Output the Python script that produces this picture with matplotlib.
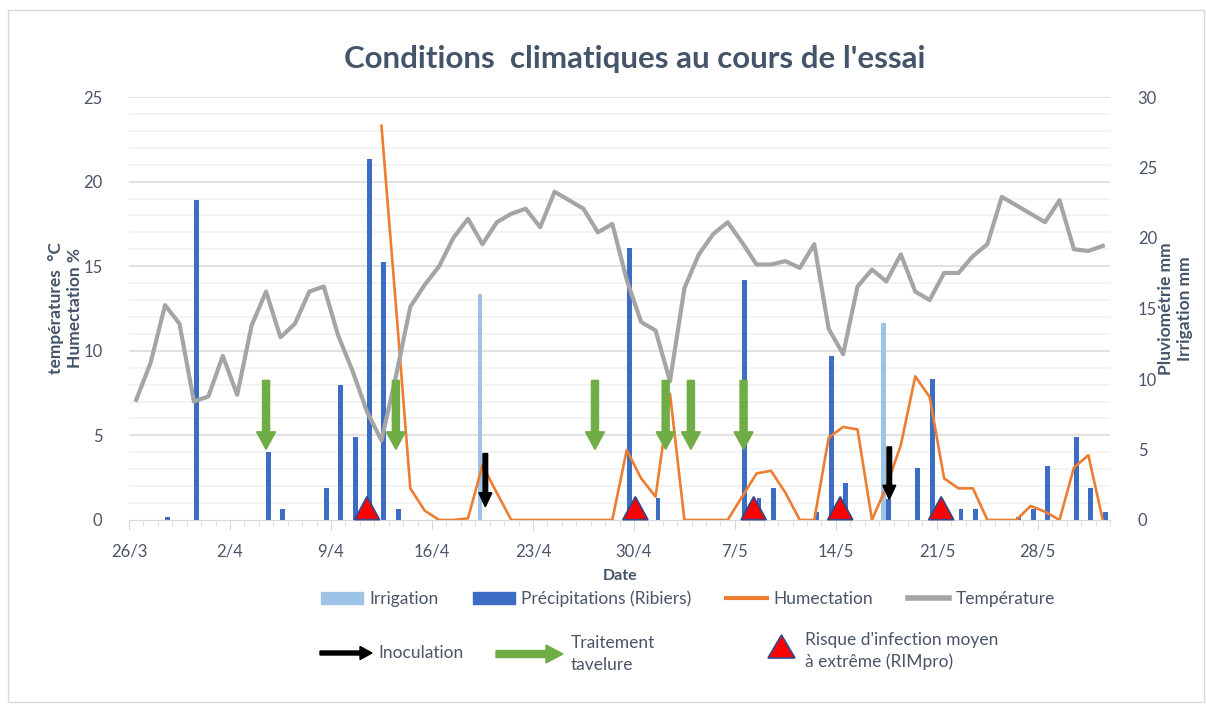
import numpy as np
import matplotlib.pyplot as plt
from matplotlib.patches import Patch, Polygon, Rectangle
from matplotlib.lines import Line2D

plt.rcParams['font.family'] = ['Lato', 'DejaVu Sans']

# one value per day, from 26/3 to 1/6
tick_labels = ['26/3', '2/4', '9/4', '16/4', '23/4', '30/4', '7/5', '14/5', '21/5', '28/5']

temperature = [7.1, 9.3, 12.7, 11.6, 7.0, 7.3, 9.7, 7.4, 11.5, 13.5,
               10.8, 11.6, 13.5, 13.8, 10.9, 8.8, 6.4, 4.7, 8.5, 12.6,
               13.9, 15.0, 16.7, 17.8, 16.3, 17.6, 18.1, 18.4, 17.3, 19.4,
               18.9, 18.4, 17.0, 17.5, 14.2, 11.7, 11.2, 8.2, 13.7, 15.7,
               16.9, 17.6, 16.4, 15.1, 15.1, 15.3, 14.9, 16.3, 11.3, 9.8,
               13.8, 14.8, 14.1, 15.7, 13.5, 13.0, 14.6, 14.6, 15.6, 16.3,
               19.1, 18.6, 18.1, 17.6, 18.9, 16.0, 15.9, 16.2]

humectation = [np.nan] * 17 + [
    23.3, 12.7, 1.87, 0.55, 0.0, 0.0, 0.1, 3.24, 1.6, 0.0,
    0.0, 0.0, 0.0, 0.0, 0.0, 0.0, 0.0, 4.13, 2.46, 1.38,
    7.47, 0.0, 0.0, 0.0, 0.0, 1.38, 2.75, 2.91, 1.61, 0.0,
    0.0, 4.87, 5.5, 5.35, 0.0, 1.97, 4.42, 8.49, 7.27, 2.46,
    1.87, 1.87, 0.0, 0.0, 0.0, 0.83, 0.49, 0.0, 3.1, 3.83, 0.0]

precip_days = [2, 4, 9, 10, 13, 14, 15, 16, 17, 18, 34, 36, 42, 43, 44, 47, 48, 49,
               52, 54, 55, 57, 58, 61, 62, 63, 65, 66, 67]
precip_mm = [0.2, 22.7, 4.85, 0.76, 2.25, 9.57, 5.86, 25.6, 18.3, 0.76, 19.3, 1.58,
             17.0, 1.58, 2.25, 0.59, 11.6, 2.6, 1.5, 3.66, 10.0, 0.76, 0.76, 0.24,
             0.76, 3.83, 5.86, 2.25, 0.55]

irrigation_days = [24, 52]
irrigation_mm = [16.0, 14.0]

inoculation_days = [24.2, 52.2]
traitement_days = [9.0, 18.0, 31.8, 36.7, 38.45, 42.1]
risque_days = [16.0, 34.6, 42.8, 48.8, 55.8]

days = np.arange(len(temperature))
txt = '#4a5568'

fig = plt.figure(figsize=(12.06, 7.04), dpi=100)
axL = fig.add_axes([129 / 1206, 1 - 520 / 704, 981 / 1206, 423 / 704])
axR = axL.twinx()
axL.set_zorder(axR.get_zorder() + 1)
axL.patch.set_visible(False)

# gridlines (left scale, every 1) drawn under the bars
for k in range(1, 26):
    axR.axhline(k * 30 / 25, color='#d9d9d9' if k % 5 == 0 else '#f0f0f0',
                lw=1.1, zorder=0)

axR.bar(np.array(irrigation_days) - 0.17, irrigation_mm, width=0.34,
        color='#9dc3e6', zorder=2)
axR.bar(np.array(precip_days) + 0.17, precip_mm, width=0.34,
        color='#3d6cc5', zorder=2)
axR.set_ylim(0, 30)
axR.set_yticks(range(0, 31, 5))

axL.plot(days, humectation, color='#ed7d31', lw=1.9, zorder=3)
axL.plot(days, temperature, color='#a5a5a5', lw=3.0, zorder=3)
axL.set_ylim(0, 25)
axL.set_yticks(range(0, 26, 5))
axL.set_xlim(-0.5, len(days) - 0.5)

for x in traitement_days:
    axL.arrow(x, 8.25, 0, 4.17 - 8.25, width=0.49, head_width=1.32, head_length=1.04,
              length_includes_head=True, color='#70ad47', zorder=5)
for x, top, tip in zip(inoculation_days, [3.93, 4.32], [0.78, 1.22]):
    axL.arrow(x, top, 0, tip - top, width=0.32, head_width=0.9, head_length=0.83,
              length_includes_head=True, color='black', zorder=5)
for x in risque_days:
    axL.add_patch(Polygon([(x - 0.87, 0.02), (x + 0.87, 0.02), (x, 1.38)],
                          facecolor='#ff0000', edgecolor='#2f4a8a', lw=1.2,
                          zorder=6, clip_on=False))

axL.set_xticks([-0.5 + 7 * k for k in range(len(tick_labels))])
axL.set_xticklabels(tick_labels)
axL.set_xticks(np.arange(-0.5, len(days)), minor=True)
axL.tick_params(axis='x', which='major', length=7, color='#d9d9d9', pad=10,
                labelsize=12, labelcolor=txt)
axL.tick_params(axis='x', which='minor', length=4, color='#d9d9d9')
axL.tick_params(axis='y', length=0, pad=19, labelsize=12, labelcolor=txt)
axR.tick_params(axis='y', length=0, pad=20, labelsize=12, labelcolor=txt)

for a in (axL, axR):
    for s in a.spines.values():
        s.set_visible(False)
axL.spines['bottom'].set_visible(True)
axL.spines['bottom'].set_color('#d9d9d9')

axL.set_ylabel('températures  °C\nHumectation %', fontsize=12.5, fontweight='bold',
               color='#44546a', linespacing=1.2)
axL.yaxis.set_label_coords(-0.047, 0.5)
axR.set_ylabel('Pluviométrie mm\nIrrigation mm', fontsize=12.5, fontweight='bold',
               color='#44546a', linespacing=1.2)
axR.yaxis.set_label_coords(1.049, 0.5)

fig.text(620 / 1206, 1 - 576 / 704, 'Date', ha='center', va='center',
         fontsize=11.5, fontweight='bold', color='#44546a')
fig.text(635 / 1206, 1 - 59 / 704, "Conditions  climatiques au cours de l'essai",
         ha='center', va='center', fontsize=22.5, fontweight='bold', color='#44546a')

handles = [Patch(color='#9dc3e6'), Patch(color='#3d6cc5'),
           Line2D([], [], color='#ed7d31', lw=3), Line2D([], [], color='#a5a5a5', lw=4)]
fig.legend(handles, ['Irrigation', 'Précipitations (Ribiers)', 'Humectation', 'Température'],
           loc='center', bbox_to_anchor=(688 / 1206, 1 - 599 / 704), ncol=4,
           frameon=False, fontsize=12.5, handlelength=2.4, handletextpad=0.35,
           columnspacing=2.0, labelcolor=txt)

# second legend row, drawn in pixel coordinates
ov = fig.add_axes([0, 0, 1, 1], zorder=10)
ov.set_xlim(0, 1206)
ov.set_ylim(704, 0)
ov.axis('off')
ov.arrow(320, 653, 52, 0, width=4, head_width=13, head_length=12,
         length_includes_head=True, color='black')
ov.arrow(496, 654, 67, 0, width=7, head_width=18, head_length=17,
         length_includes_head=True, color='#70ad47')
ov.add_patch(Polygon([(768, 658), (795, 658), (781.5, 635)],
                     facecolor='#ff0000', edgecolor='#2f4a8a', lw=1.2))
ov.text(378, 653, 'Inoculation', va='center', fontsize=12.5, color=txt)
ov.text(571, 654, 'Traitement\ntavelure', va='center', fontsize=12.5, color=txt,
        linespacing=1.4)
ov.text(805, 651, "Risque d'infection moyen\nà extrême (RIMpro)", va='center',
        fontsize=12.5, color=txt, linespacing=1.4)
ov.add_patch(Rectangle((8, 10), 1196, 692, fill=False, edgecolor='#d9d9d9', lw=1))

fig.savefig('out.png', dpi=100)
